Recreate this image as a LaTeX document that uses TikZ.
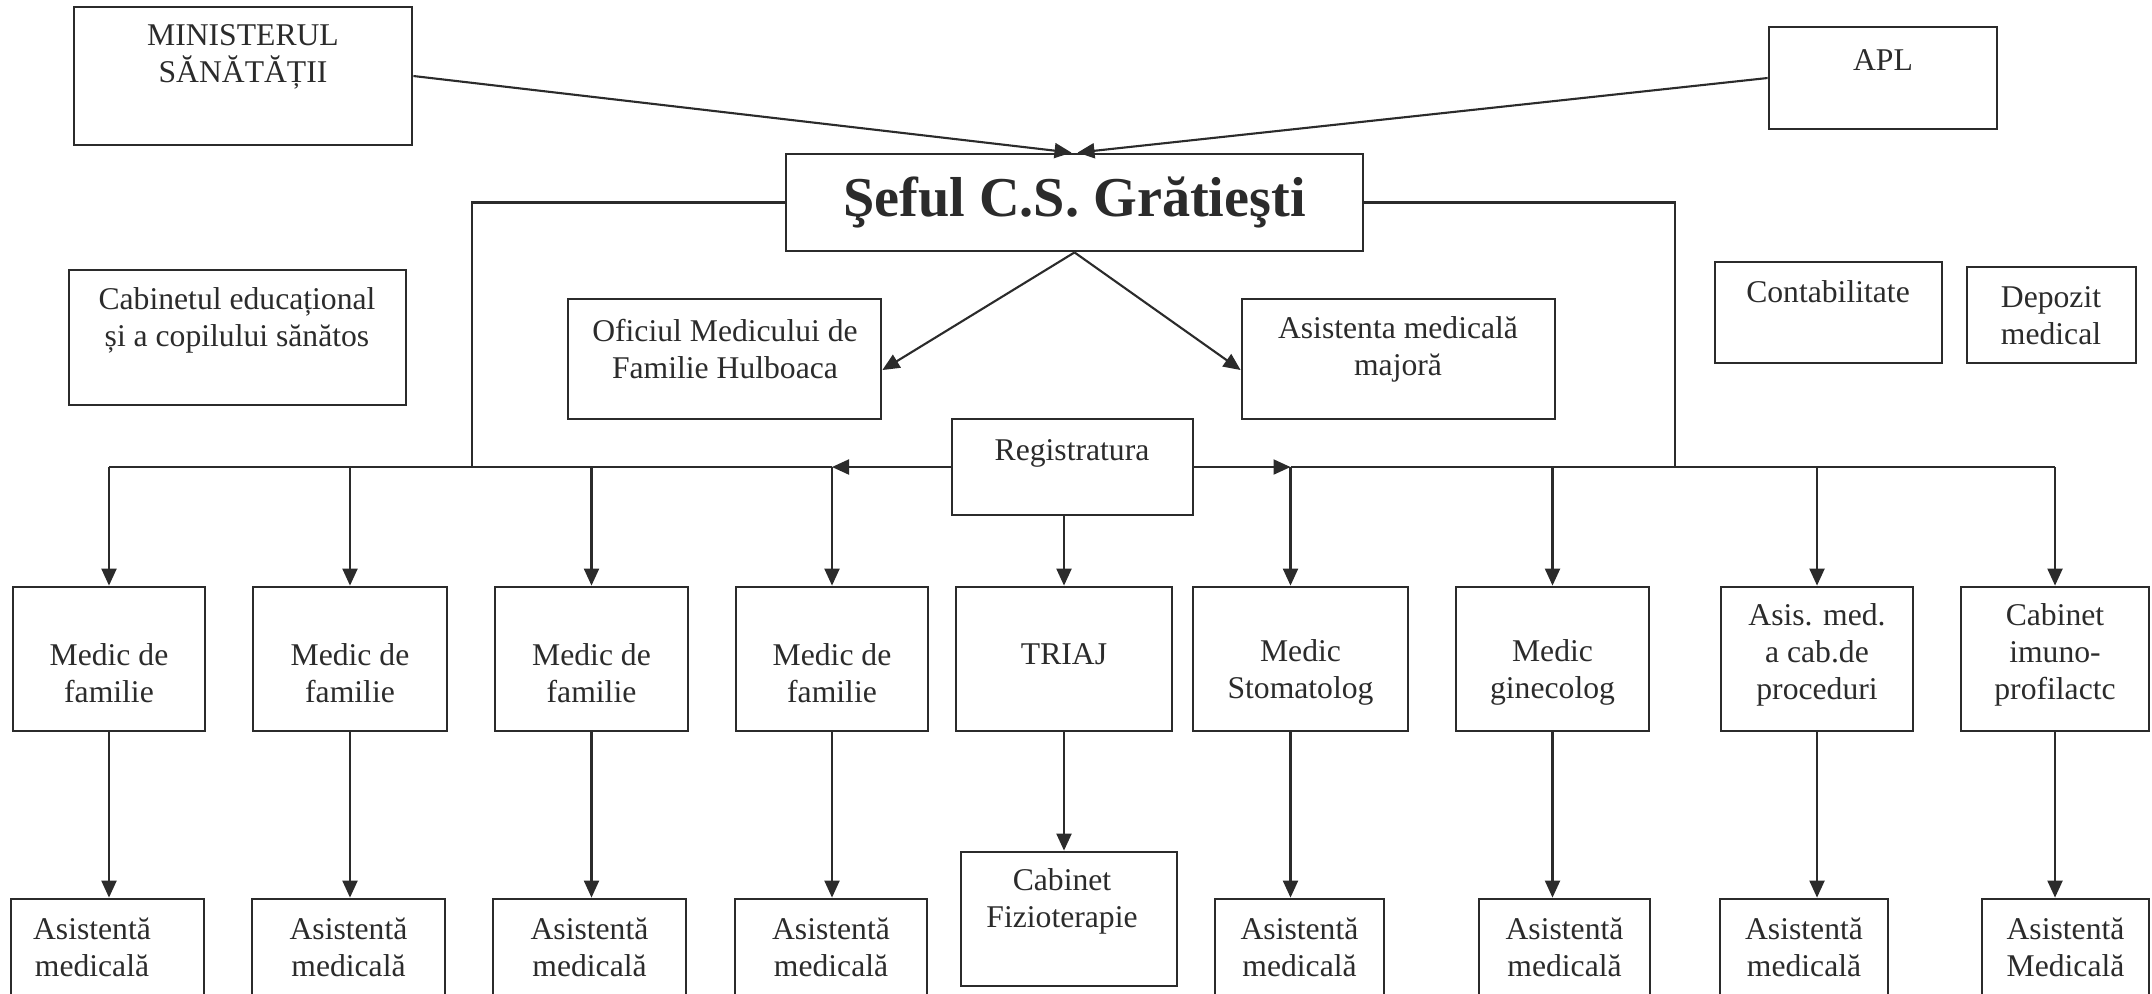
\documentclass[tikz,border=0pt]{standalone}
\usepackage{fontspec}
\setmainfont{Liberation Serif}
\usetikzlibrary{arrows.meta,fit}
\definecolor{ink}{HTML}{2B2B2B}
\tikzset{
  box/.style={draw=ink, line width=0.8pt, inner sep=0pt},
  txt/.style={text=ink, align=center, inner sep=0pt, font=\fontsize{9}{10.5}\selectfont},
  link/.style={draw=ink, line width=0.6pt},
  arr/.style={link, -{Triangle[length=1.7mm,width=1.5mm]}}
}
\begin{document}
\begin{tikzpicture}[x=0.01cm,y=-0.01cm]
  \useasboundingbox (0,0) rectangle (2152,993);
  \clip (0,0) rectangle (2152,993);

  % top level
  \node[box, fit={(74,7)(412,145)}] (min) {};
  \node[box, fit={(1769,27)(1997,129)}] (apl) {};
  \node[box, fit={(786,154)(1363,251)}] (sef) {};
  \node[txt] (min-t) at (243,57) {MINISTERUL\\SĂNĂTĂȚII};
  \node[txt] (apl-t) at (1883,60) {APL};
  \node[txt, font=\fontsize{16}{18}\selectfont\bfseries] (sef-t) at (sef.center) {Şeful C.S. Grătieşti};

  % second level
  \node[box, fit={(69,270)(406,405)}] (edu) {};
  \node[box, fit={(568,299)(881,419)}] (ofi) {};
  \node[box, fit={(1242,299)(1555,419)}] (maj) {};
  \node[box, fit={(1715,262)(1942,363)}] (cont) {};
  \node[box, fit={(1967,267)(2136,363)}] (dep) {};
  \node[box, fit={(952,419)(1193,515)}] (reg) {};
  \node[txt] (edu-t) at (237,320) {Cabinetul educațional\\și a copilului sănătos};
  \node[txt] (ofi-t) at (725,349) {Oficiul Medicului de\\Familie Hulboaca};
  \node[txt] (maj-t) at (1398,349) {Asistenta medicală\\majoră};
  \node[txt] (cont-t) at (1828,292) {Contabilitate};
  \node[txt] (dep-t) at (2051,316) {Depozit\\medical};
  \node[txt] (reg-t) at (1072,453) {Registratura};

  % medici
  \foreach \n/\l/\r in {m1/13/205, m2/253/447, m3/495/688, m4/736/928,
      tri/956/1172, sto/1193/1408, gin/1456/1649, asis/1721/1913, imu/1961/2149}
    \node[box, fit={(\l,587)(\r,731)}] (\n) {};
  \foreach \n in {m1,m2,m3,m4}
    \node[txt] (\n-t) at ([yshift=-0.14cm]\n.center) {Medic de\\familie};
  \node[txt] (tri-t) at (tri.center |- 0,654) {TRIAJ};
  \node[txt] (sto-t) at (sto.center |- 0,672) {Medic\\Stomatolog};
  \node[txt] (gin-t) at (gin.center |- 0,672) {Medic\\ginecolog};
  \node[txt] (asis-t) at (asis.center |- 0,655) {Asis. med.\\a cab.de\\proceduri};
  \node[txt] (imu-t) at (imu.center |- 0,655) {Cabinet\\imuno-\\profilactc};
  \coordinate (sto-x) at ([xshift=-0.1cm]sto.center);

  % asistente
  \foreach \n/\l/\r in {a1/11/204, a2/252/445, a3/493/686, a4/735/927,
      a5/1215/1384, a6/1479/1650, a7/1720/1888, a8/1982/2149}
    \node[box, fit={(\l,899)(\r,1060)}] (\n) {};
  \node[box, fit={(961,852)(1177,986)}] (fiz) {};
  \node[txt] (a1-t) at (92,947) {Asistentă\\medicală};
  \foreach \n in {a2,a3,a4,a5,a6,a7}
    \node[txt] (\n-t) at (\n.north |- 0,947) {Asistentă\\medicală};
  \node[txt] (a8-t) at (a8.north |- 0,947) {Asistentă\\Medicală};
  \node[txt] (fiz-t) at (1062,901) {Cabinet\\Fizioterapie};

  % legaturi
  \coordinate (jl) at (472,467);
  \coordinate (jr) at (1675,467);
  \draw[arr] (min.east) -- ([xshift=-0.03cm]sef.north);
  \draw[arr] (apl.west) -- ([xshift=0.03cm]sef.north);
  \draw[arr] (sef.south) -- ([yshift=-0.11cm]ofi.east);
  \draw[arr] (sef.south) -- ([yshift=-0.11cm]maj.west);
  \draw[link] (sef.west) -| (jl);
  \draw[link] (sef.east) -| (jr);
  \draw[link] (m1.north |- reg.west) -- (m4.north |- reg.west);
  \draw[link] (sto-x |- reg.east) -- (imu.north |- reg.east);
  \draw[arr] (reg.west) -- (m4.north |- reg.west);
  \draw[arr] (reg.east) -- (sto-x |- reg.east);
  \draw[arr] (tri.north |- reg.south) -- (tri.north);
  \foreach \n in {m1,m2,m3,m4,gin,asis,imu}
    \draw[arr] (\n.north |- reg.west) -- (\n.north);
  \draw[arr] (sto-x |- reg.east) -- (sto-x |- sto.north);

  \foreach \n/\a in {m1/a1,m2/a2,m3/a3,m4/a4,gin/a6,asis/a7,imu/a8}
    \draw[arr] (\n.south) -- (\n.south |- \a.north);
  \draw[arr] (sto-x |- sto.south) -- (sto-x |- a5.north);
  \draw[arr] (tri.south) -- (tri.south |- fiz.north);
\end{tikzpicture}
\end{document}
